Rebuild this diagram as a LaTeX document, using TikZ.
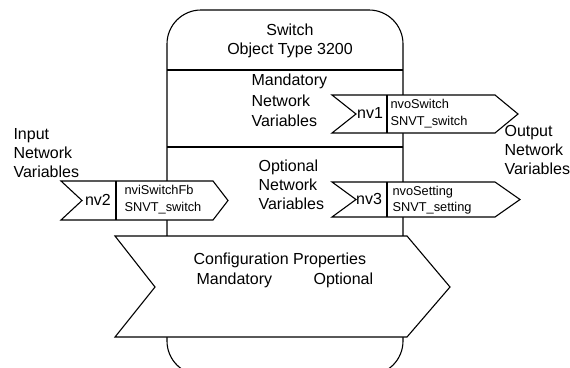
\documentclass[tikz,border=0pt]{standalone}
\usepackage{fontspec}
\setmainfont{Liberation Sans}

\begin{document}
\begin{tikzpicture}[x=1pt,y=-1pt,line width=1.1pt,
	big text/.style={font=\fontsize{16}{19}\selectfont,align=left,inner sep=0pt},
	var text/.style={font=\fontsize{12.8}{16.5}\selectfont,align=left,inner sep=0pt,anchor=west},
	flag/.style={draw,fill=white,line join=miter}]
	
	\useasboundingbox (0,0) rectangle (570,367);
	\clip (0,0) rectangle (570,367);
	
	\coordinate (V1) at (332,95);  % nv1, output
	\coordinate (V2) at (61,181);  % nv2, input
	\coordinate (V3) at (332,182); % nv3, output
	
	% the object block, runs off the bottom
	\draw[rounded corners=34pt] (167,200) -- (167,10) -- (403,10) -- (403,375)
		-- (167,375) -- cycle;
	\draw (167,70) -- (403,70) (167,147) -- (403,147);
	
	\draw[flag] (V1) -- ++(163,0) -- ++(23,19) -- ++(-23,19) -- ++(-163,0) -- ++(24,-19) -- cycle;
	\draw (V1)++(55,0) -- ++(0,38);
	\draw[flag] (V3) -- ++(163,0) -- ++(25,17.5) -- ++(-25,17.5) -- ++(-163,0) -- ++(24,-17.5) -- cycle;
	\draw (V3)++(55,0) -- ++(0,35);
	\draw[flag] (V2) -- ++(152,0) -- ++(15,19.5) -- ++(-15,19.5) -- ++(-152,0) -- ++(21,-19.5) -- cycle;
	\draw (V2)++(55,0) -- ++(0,39);
	
	% configuration properties
	\draw[flag] (115,236) -- (407,236) -- (450,287) -- (407,337) -- (115,337) -- (155,287) -- cycle;
	
	\node[big text,align=center] (title) at (290,41) {Switch\\Object Type 3200};
	\node[big text,anchor=west,font=\fontsize{16}{20.5}\selectfont] (mand) at (251,100.5) {Mandatory\\Network\\Variables};
	\node[big text,anchor=west] (opt) at (258,185) {Optional\\Network\\Variables};
	\node[big text,anchor=west] (inp) at (13,153) {Input\\Network\\Variables};
	\node[big text,anchor=west] (outp) at (504,150) {Output\\Network\\Variables};
	
	\node[big text] (nv1) at (370,113) {nv1};
	\node[var text] (nvo1) at (390,113.5) {nvoSwitch\\SNVT\_switch};
	\node[big text] (nv3) at (369,199) {nv3};
	\node[var text] (nvo3) at (392,200) {nvoSetting\\SNVT\_setting};
	\node[big text] (nv2) at (98,200) {nv2};
	\node[var text] (nvi2) at (124,199.5) {nviSwitchFb\\SNVT\_switch};
	
	\node[big text,anchor=west] (cfg) at (193,260) {Configuration Properties};
	\node[big text,anchor=west] (cfgm) at (196,280) {Mandatory};
	\node[big text,anchor=west] (cfgo) at (313,280) {Optional};
	
\end{tikzpicture}
\end{document}
